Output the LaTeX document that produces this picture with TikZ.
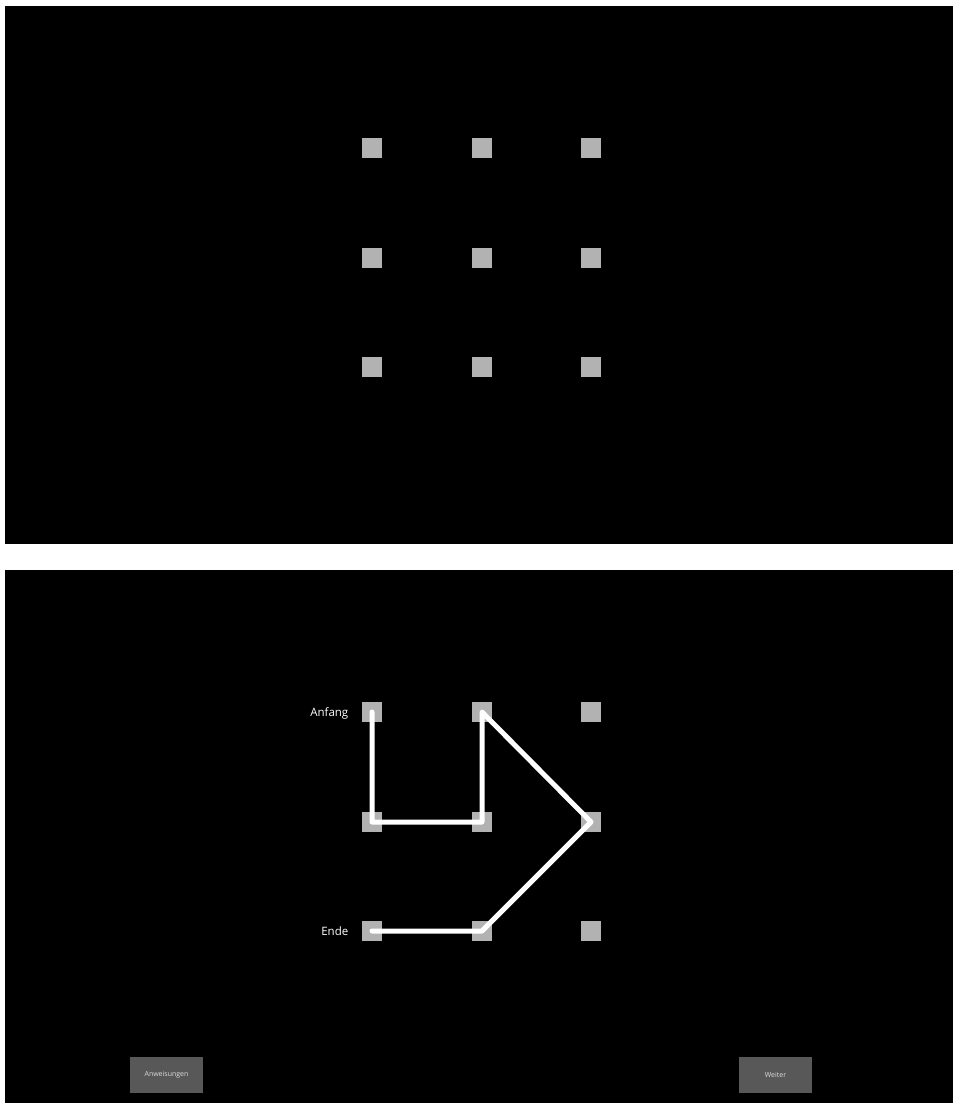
\documentclass[tikz,border=0pt]{standalone}
\usepackage{fontspec}
\setmainfont{Open Sans}
\usepackage{xcolor}
\definecolor{squareFill}{RGB}{178,178,178}
\definecolor{buttonFill}{RGB}{88,88,88}
\definecolor{buttonText}{RGB}{220,220,220}
\usepackage{tikz}
\usetikzlibrary{positioning}
\tikzstyle{gridsq}=[fill=squareFill, minimum size=20pt, inner sep=0pt]
\tikzstyle{trace}=[draw=white, line width=5pt, line cap=round, line join=round]
\tikzstyle{label}=[text=white, font=\fontsize{11.5}{13}\selectfont]
\tikzstyle{button}=[fill=buttonFill, minimum width=73pt, minimum height=36pt, text=buttonText, font=\fontsize{7}{8}\selectfont]

\begin{document}
\begin{tikzpicture}[x=1pt,y=-1pt]
        \fill[white] (0,0) rectangle (953,1103);
        \useasboundingbox (0,0) rectangle (953,1103);
        % two screens
        \fill[black] (5,6) rectangle (953,544);
        \fill[black] (5,570) rectangle (953,1103);
        \foreach \r/\yy in {1/148,2/258,3/367}{
          \foreach \c/\xx in {1/372,2/482,3/591}{
            \node[gridsq] (a\r\c) at (\xx,\yy) {};
          }
        }
        \foreach \r/\yy in {1/712,2/822,3/931}{
          \foreach \c/\xx in {1/372,2/482,3/591}{
            \node[gridsq] (b\r\c) at (\xx,\yy) {};
          }
        }
        \draw[trace] (b11.center) -- (b21.center) -- (b22.center) -- (b12.center)
          -- (b23.center) -- (b32.center) -- (b31.center);
        \node[label, left=10pt of b11, yshift=-1pt] (anfang) {Anfang};
        \node[label, left=10pt of b31] (ende) {Ende};
        \node[button] (anweisungen) at (166.5,1075) {Anweisungen};
        \node[button] (weiter) at (775.5,1075) {Weiter};
      \end{tikzpicture}
\end{document}
